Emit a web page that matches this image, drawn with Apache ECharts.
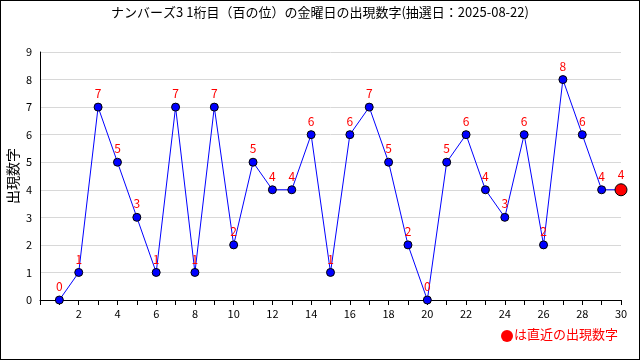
<!DOCTYPE html>
<html><head><meta charset="utf-8">
<script src="https://cdn.jsdelivr.net/npm/echarts@6/dist/echarts.min.js"></script>
<style>html,body{margin:0;padding:0;background:#fff}#c{width:640px;height:360px;box-sizing:border-box;border:1px solid #000}</style>
</head><body><div id="c"></div>
<script>
const titleText = 'ナンバーズ3 1桁目（百の位）の金曜日の出現数字(抽選日：2025-08-22)';
const yName = '出現数字';
const legendText = 'は直近の出現数字';
const draws = [1,2,3,4,5,6,7,8,9,10,11,12,13,14,15,16,17,18,19,20,21,22,23,24,25,26,27,28,29,30];
const values = [0,1,7,5,3,1,7,1,7,2,5,4,4,6,1,6,7,5,2,0,5,6,4,3,6,2,8,6,4,4];

const chart = echarts.init(document.getElementById('c'), null, {renderer:'canvas'});
const font = '"Noto Sans CJK JP", sans-serif';
const pts = draws.map((x,i)=>({
  value:[x, values[i]],
  symbolSize: i===draws.length-1 ? 12 : 8,
  itemStyle: i===draws.length-1 ? {color:'#ff0000', borderColor:'#000', borderWidth:1} : undefined
}));
chart.setOption({
  animation:false,
  title:{text:titleText, left:'center', top:0, textStyle:{fontSize:13, fontWeight:'normal', color:'#000', fontFamily:font}},
  grid:{left:39, right:18, top:51, bottom:59, containLabel:false, outerBoundsMode:'none'},
  xAxis:{type:'value', min:0, max:30, interval:1,
    axisLine:{lineStyle:{color:'#000'}},
    axisTick:{show:true, length:5, lineStyle:{color:'#000'}},
    axisLabel:{color:'#000', fontSize:11, fontFamily:font, margin:8,
      formatter:v=> (v>0 && v%2===0) ? String(v) : ''},
    splitLine:{show:false}},
  yAxis:{type:'value', min:0, max:9, interval:1,
    name:yName, nameLocation:'middle', nameGap:20, nameRotate:90, nameMoveOverlap:false,
    nameTextStyle:{fontSize:14, color:'#000', fontFamily:font},
    axisLine:{show:true, lineStyle:{color:'#000'}},
    axisTick:{show:false},
    axisLabel:{color:'#000', fontSize:11, fontFamily:font, margin:8},
    splitLine:{show:true, lineStyle:{color:'#d8d8d8'}}},
  series:[{
    type:'line', data:pts, symbol:'circle', symbolSize:8,
    lineStyle:{color:'#0000ff', width:1},
    itemStyle:{color:'#0000ff', borderColor:'#000', borderWidth:1},
    label:{show:true, position:'top', distance:3, color:'#ff0000', fontSize:12, fontFamily:font,
      formatter:p=>String(p.value[1])}
  }],
  graphic:[
    {type:'circle', shape:{cx:506, cy:335, r:6}, style:{fill:'#ff0000'}},
    {type:'text', left:513, top:327, style:{text:legendText, fill:'#ff0000', fontSize:13, fontFamily:font}}
  ]
});
</script></body></html>
